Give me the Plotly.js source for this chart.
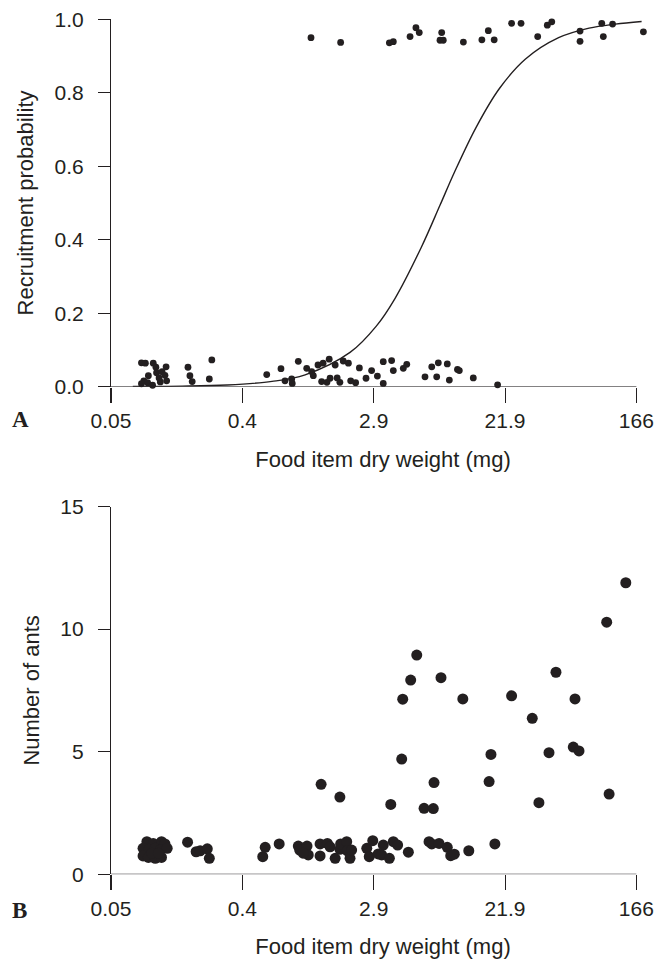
<!DOCTYPE html>
<html><head><meta charset="utf-8">
<script src="https://cdn.plot.ly/plotly-3.0.1.min.js"></script>
<style>html,body{margin:0;padding:0;background:#fff}#chart{width:670px;height:960px}</style>
</head><body><div id="chart"></div>
<script>
// ---- tick labels ----
const xTickVals = [0.05, 0.3796, 2.882, 21.88, 166];
const xTickText = ['0.05', '0.4', '2.9', '21.9', '166'];
const yTickValsA = [0, 0.2, 0.4, 0.6, 0.8, 1.0];
const yTickTextA = ['0.0', '0.2', '0.4', '0.6', '0.8', '1.0'];
const yTickValsB = [0, 5, 10, 15];

// ---- panel A: not recruited (plotted near 0, jittered) ----
const aLowWeight = [0.080,0.085,0.096,0.100,0.117,0.089,0.101,0.110,0.115,0.105,0.083,0.080,0.088,0.095,0.107,0.118,
  0.164,0.169,0.175,0.237,0.228,0.553,0.689,0.733,0.813,0.82,0.90,1.025,1.107,1.135,1.22,1.32,1.45,1.59,1.47,1.29,1.40,
  1.64,1.71,1.80,1.95,2.02,2.18,2.31,2.56,2.79,3.05,3.34,3.80,3.90,4.55,4.80,3.34,6.36,7.06,7.81,7.62,8.97,9.26,10.5,10.8,13.4,19.5];
const aLowProb = [0.065,0.064,0.064,0.053,0.054,0.030,0.038,0.041,0.031,0.024,0.016,0.008,0.011,0.004,0.013,0.016,
  0.053,0.030,0.014,0.073,0.021,0.033,0.049,0.016,0.021,0.009,0.069,0.050,0.041,0.030,0.059,0.064,0.075,0.059,0.023,0.014,0.012,
  0.024,0.012,0.070,0.064,0.016,0.011,0.051,0.023,0.044,0.029,0.068,0.071,0.044,0.050,0.061,0.009,0.027,0.054,0.065,0.027,0.062,0.018,0.047,0.044,0.024,0.005];

// ---- panel A: recruited (plotted near 1, jittered) ----
const aHighWeight = [1.095,1.73,3.67,3.90,5.05,5.53,5.82,8.23,8.02,8.43,11.5,15.3,16.9,18.5,24.2,28.0,36.2,42.0,45.0,69.6,69.6,97.3,99.7,115,185];
const aHighProb = [0.950,0.937,0.936,0.939,0.953,0.977,0.964,0.964,0.943,0.943,0.938,0.944,0.969,0.944,0.989,0.989,0.953,0.984,0.993,0.968,0.940,0.989,0.953,0.987,0.966];

// ---- panel A: fitted logistic curve ----
const curveWeight = [0.07,0.15,0.3,0.6,1,2,3,4,6,8,10,14,20,30,50,80,120,180];
const curveProb = [0.0005,0.0015,0.0047,0.0144,0.0324,0.0933,0.165,0.240,0.379,0.493,0.583,0.706,0.811,0.892,0.950,0.976,0.987,0.994];

// ---- panel B: number of ants ----
const bWeight = [141,105,5.6,5.1,8.14,4.51,11.4,24.2,48.0,64.4,33.3,4.44,17.6,43.1,62.7,68.5,7.31,17.1,3.75,6.27,7.23,36.9,109,1.28,1.71,
  2.59,2.84,2.69,3.09,3.34,3.26,3.67,3.90,4.17,4.92,6.77,7.06,7.90,8.97,9.46,10.0,12.5,18.7,
  0.087,0.096,0.109,0.115,0.082,0.090,0.099,0.107,0.119,0.082,0.089,0.099,0.109,0.094,0.104,
  0.163,0.186,0.198,0.221,0.228,0.52,0.54,0.67,
  0.90,0.92,1.03,1.05,0.97,1.26,1.26,1.41,1.47,1.59,1.71,1.73,1.90,1.92,2.00,2.05];
const bAnts = [11.89,10.28,8.94,7.92,8.02,7.14,7.15,7.28,8.24,7.15,6.36,4.70,4.89,4.96,5.19,5.03,3.74,3.78,2.85,2.69,2.68,2.92,3.27,3.67,3.15,
  1.06,1.37,0.72,0.83,1.19,0.79,0.65,1.33,1.19,0.90,1.33,1.24,1.26,1.10,0.76,0.82,0.96,1.24,
  1.33,1.26,1.33,1.24,1.06,1.02,1.06,0.99,1.06,0.75,0.69,0.65,0.69,0.86,0.86,
  1.31,0.92,0.96,1.04,0.65,0.72,1.10,1.24,
  1.15,0.99,1.15,0.79,0.86,1.24,0.75,1.26,1.12,0.65,1.02,1.24,1.33,0.96,0.65,0.99];

const INK = '#231f20';
const FONT = 'Liberation Sans, Arial, Helvetica, sans-serif';
const W = 670, H = 960;

const traces = [
  {x: aLowWeight, y: aLowProb, xaxis: 'x', yaxis: 'y', type: 'scatter', mode: 'markers', cliponaxis: false,
   marker: {size: 6.8, color: INK}, hoverinfo: 'x+y'},
  {x: aHighWeight, y: aHighProb, xaxis: 'x', yaxis: 'y', type: 'scatter', mode: 'markers', cliponaxis: false,
   marker: {size: 6.8, color: INK}, hoverinfo: 'x+y'},
  {x: curveWeight, y: curveProb, xaxis: 'x', yaxis: 'y', type: 'scatter', mode: 'lines', cliponaxis: false,
   line: {color: INK, width: 1.4, shape: 'spline'}, hoverinfo: 'skip'},
  // x axis lines spanning first to last tick (base-graphics style)
  {x: [xTickVals[0], xTickVals[xTickVals.length-1]], y: [0, 0], xaxis: 'x', yaxis: 'y', type: 'scatter', mode: 'lines',
   cliponaxis: false, line: {color: INK, width: 1.1}, hoverinfo: 'skip'},
  {x: [xTickVals[0], xTickVals[xTickVals.length-1]], y: [0, 0], xaxis: 'x2', yaxis: 'y2', type: 'scatter', mode: 'lines',
   cliponaxis: false, line: {color: INK, width: 1.1}, hoverinfo: 'skip'},
  {x: bWeight, y: bAnts, xaxis: 'x2', yaxis: 'y2', type: 'scatter', mode: 'markers', cliponaxis: false,
   marker: {size: 11, color: INK}, hoverinfo: 'x+y'}
];

const xRight = 2.345;
function xAxis(anchor) {
  return {
    type: 'log', range: [Math.log10(0.05), xRight], domain: [111 / W, 655 / W], anchor: anchor,
    tickmode: 'array', tickvals: xTickVals, ticktext: xTickText,
    ticks: 'outside', ticklen: 15, tickwidth: 1.1, tickcolor: INK,
    showline: false, showgrid: false, zeroline: false,
    tickfont: {family: FONT, size: 21, color: INK},
    title: {text: 'Food item dry weight (mg)', font: {family: FONT, size: 22, color: INK}, standoff: 20}
  };
}
function yAxis(anchor, dom, rng, vals, text, title) {
  return {
    domain: dom, range: rng, anchor: anchor,
    tickmode: 'array', tickvals: vals, ticktext: text,
    ticks: 'outside', ticklen: 12, tickwidth: 1.1, tickcolor: INK,
    showline: true, linecolor: INK, linewidth: 1.1, showgrid: false, zeroline: false,
    ticklabelstandoff: 10,
    tickfont: {family: FONT, size: 21, color: INK},
    title: {text: title, font: {family: FONT, size: 22, color: INK}, standoff: 14}
  };
}

const layout = {
  width: W, height: H, margin: {l: 0, r: 0, t: 0, b: 0},
  paper_bgcolor: '#fff', plot_bgcolor: '#fff', showlegend: false,
  xaxis: xAxis('y'),
  yaxis: yAxis('x', [1 - 386.7 / H, 1 - 19.3 / H], [0, 1], yTickValsA, yTickTextA, 'Recruitment probability'),
  xaxis2: xAxis('y2'),
  yaxis2: yAxis('x2', [1 - 874.3 / H, 1 - 506.5 / H], [0, 15], yTickValsB, yTickValsB.map(String), 'Number of ants'),
  annotations: [
    {text: '<b>A</b>', xref: 'paper', yref: 'paper', x: 10 / W, y: 1 - 419 / H, xanchor: 'left', yanchor: 'middle',
     showarrow: false, font: {family: 'Liberation Serif, Times New Roman, serif', size: 23, color: INK}},
    {text: '<b>B</b>', xref: 'paper', yref: 'paper', x: 10 / W, y: 1 - 910 / H, xanchor: 'left', yanchor: 'middle',
     showarrow: false, font: {family: 'Liberation Serif, Times New Roman, serif', size: 23, color: INK}}
  ]
};

Plotly.newPlot('chart', traces, layout, {staticPlot: true, displayModeBar: false});
</script></body></html>
